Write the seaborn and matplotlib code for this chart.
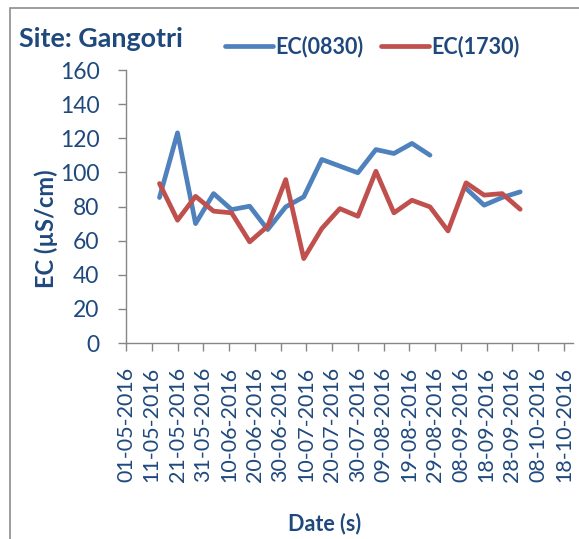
import pandas as pd
import matplotlib
matplotlib.use("Agg")
import matplotlib.pyplot as plt
import matplotlib.dates as mdates
from matplotlib.patches import Rectangle
import seaborn as sns

# weekly sampling dates
dates = pd.date_range("2016-05-14", periods=21, freq="7D")

# EC readings (uS/cm); blue has no reading on 03-09-2016
ec_0830 = [85.3, 123.2, 70.0, 87.6, 78.2, 80.2, 66.5, 79.8, 85.7, 107.6, 103.7,
           99.8, 113.4, 111.1, 117.0, 110.1, None, 90.6, 80.8, 85.3, 88.6]
ec_1730 = [93.5, 72.0, 86.0, 77.3, 76.3, 59.3, 68.5, 95.8, 49.5, 67.1, 78.8,
           74.3, 100.7, 76.3, 83.7, 79.8, 65.7, 93.9, 86.7, 87.6, 78.4]

tick_dates = pd.date_range("2016-05-01", periods=18, freq="10D")
y_ticks = [0, 20, 40, 60, 80, 100, 120, 140, 160]

# long format, with a segment id so the gap in EC(0830) stays open
rows = []
seg = 0
for d, v in zip(dates, ec_0830):
    if v is None:
        seg += 1
        continue
    rows.append({"date": d, "ec": v, "series": "EC(0830)", "seg": seg})
for d, v in zip(dates, ec_1730):
    rows.append({"date": d, "ec": v, "series": "EC(1730)", "seg": 10})
data = pd.DataFrame(rows)

sns.set_style("white")
plt.rcParams["font.family"] = ["Lato", "DejaVu Sans"]
txt = "#1F497D"
grey = "#868686"

fig = plt.figure(figsize=(5.79, 5.39), dpi=100)
ax = fig.add_axes([0.2176, 0.3636, 0.7720, 0.5064])

sns.lineplot(data=data, x="date", y="ec", hue="series", units="seg", estimator=None,
             palette={"EC(0830)": "#4F81BD", "EC(1730)": "#C0504D"},
             linewidth=3.4, ax=ax, legend=False)

ax.set_xlim(pd.Timestamp("2016-05-01"), pd.Timestamp("2016-10-21 12:00"))
ax.set_ylim(0, 160)
ax.set_yticks(y_ticks)
ax.set_xticks(tick_dates)
ax.xaxis.set_major_formatter(mdates.DateFormatter("%d-%m-%Y"))
ax.tick_params(axis="x", rotation=90, labelsize=15.5, colors=grey, labelcolor=txt,
               length=6, width=1, direction="out", bottom=True, pad=11)
ax.tick_params(axis="y", labelsize=16.5, colors=grey, labelcolor=txt,
               length=6, width=1, direction="out", left=True, pad=13)
sns.despine(ax=ax)
for s in ["left", "bottom"]:
    ax.spines[s].set_color(grey)
    ax.spines[s].set_linewidth(1)

ax.set_xlabel("Date (s)", fontsize=15.5, fontweight="bold", color=txt)
ax.xaxis.set_label_coords(0.445, -0.62)
ax.set_ylabel("EC (µS/cm)", fontsize=17, fontweight="bold", color=txt)
ax.yaxis.set_label_coords(-0.152, 0.42)

fig.text(0.032, 0.928, "Site: Gangotri", fontsize=19.4, fontweight="bold", color=txt,
         va="center", ha="left")

handles = [plt.Line2D([], [], color="#4F81BD", lw=3.4),
           plt.Line2D([], [], color="#C0504D", lw=3.4)]
fig.legend(handles, ["EC(0830)", "EC(1730)"], loc="center", bbox_to_anchor=(0.643, 0.913),
           ncol=2, frameon=False, handlelength=2.2, handletextpad=0.1, columnspacing=0.85,
           prop={"weight": "bold", "size": 15.5}, labelcolor=txt)

fig.add_artist(Rectangle((10 / 579, -0.1), 1.2, 0.985 + 0.1, transform=fig.transFigure,
                         fill=False, edgecolor="#8c8c8c", linewidth=1.2, clip_on=False))

fig.savefig("out.png", dpi=100)
